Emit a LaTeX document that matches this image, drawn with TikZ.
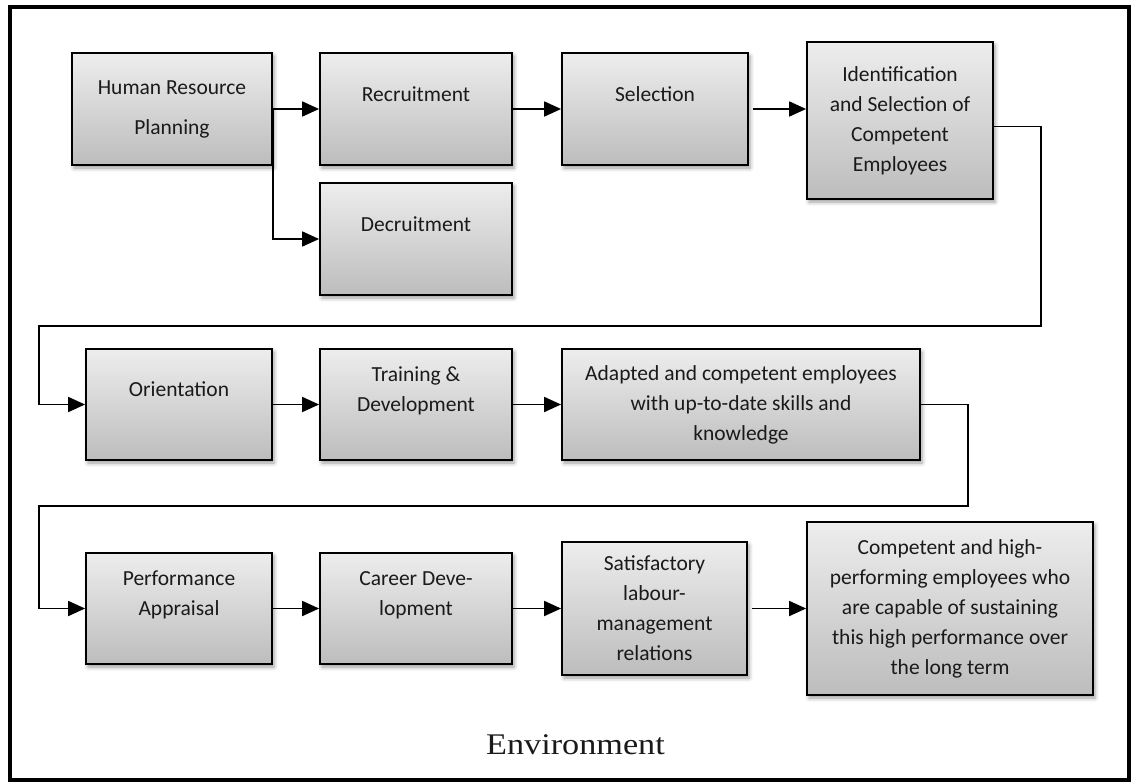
\documentclass[tikz,border=0pt]{standalone}
\usepackage{fontspec}
\setmainfont{Carlito}
\newfontfamily\envfont{Liberation Serif}
\usetikzlibrary{arrows.meta,shadows.blur}

\definecolor{inktext}{HTML}{1A1A1A}

\begin{document}
\begin{tikzpicture}[x=1pt,y=-1pt,
  stage/.style={draw=black, line width=1.8pt,
    top color=gray!14, bottom color=gray!52,
    blur shadow={shadow xshift=2pt, shadow yshift=-3pt,
      shadow blur radius=4pt, shadow opacity=40},
    align=center, text=inktext, inner sep=0pt,
    font=\fontsize{21.5}{30}\selectfont},
  link/.style={line width=1.8pt, -{Triangle[length=17pt,width=15pt]}}
]
\useasboundingbox (0,0) rectangle (1132,782);

% outer frame
\draw[line width=4pt] (10,7) rectangle (1129,780);

% first row
\node[stage, minimum width=200pt, minimum height=112pt,
      font=\fontsize{21.5}{40}\selectfont] (hrp) at (172,109) {Human Resource\\Planning};
\node[stage, minimum width=192pt, minimum height=112pt] (rec) at (416,109) {Recruitment\\\mbox{}};
\node[stage, minimum width=186pt, minimum height=112pt] (sel) at (655,109) {Selection\\\mbox{}};
\node[stage, minimum width=186pt, minimum height=157pt] (ident) at (900,120.5)
  {Identification\\and Selection of\\Competent\\Employees};
\node[stage, minimum width=192pt, minimum height=112pt] (decr) at (416,239) {Decruitment\\\mbox{}};

% second row
\node[stage, minimum width=186pt, minimum height=111pt] (orient) at (179,404.5) {Orientation\\\mbox{}};
\node[stage, minimum width=192pt, minimum height=111pt] (train) at (416,404.5) {Training \&\\Development\\\mbox{}};
\node[stage, minimum width=358pt, minimum height=111pt] (adapt) at (741,404.5)
  {Adapted and competent employees\\with up-to-date skills and\\knowledge};

% third row
\node[stage, minimum width=186pt, minimum height=111pt] (perf) at (179,608.5) {Performance\\Appraisal\\\mbox{}};
\node[stage, minimum width=192pt, minimum height=111pt] (career) at (416,608.5) {Career Deve-\\lopment\\\mbox{}};
\node[stage, minimum width=185pt, minimum height=133pt] (satis) at (654.5,608.5)
  {Satisfactory\\labour-\\management\\relations};
\node[stage, minimum width=286pt, minimum height=173pt] (comp) at (950,608.5)
  {Competent and high-\\performing employees who\\are capable of sustaining\\this high performance over\\the long term};

% caption
\node[font=\envfont\fontsize{30}{36}\selectfont, text=inktext, anchor=base, inner sep=0pt]
  (env) at (575.5,754) {\scalebox{1.14}[1]{Environment}};

% turning points of the wrap-around connectors
\coordinate (wrapA) at (1041,326);
\coordinate (wrapB) at (39,326);
\coordinate (wrapC) at (968,506);
\coordinate (wrapD) at (39,506);

% connectors
\draw[link] (hrp.east) -- (rec.west);
\draw[link] (hrp.east) |- (decr.west);
\draw[link] (rec.east) -- (sel.west);
\draw[link, shorten <=4pt] (sel.east) -- (sel.east -| ident.west);
\draw[link] ([yshift=-6pt]ident.east) -| (wrapA) -- (wrapB) |- (orient.west);
\draw[link] (orient.east) -- (train.west);
\draw[link] (train.east) -- (adapt.west);
\draw[link] (adapt.east) -| (wrapC) -- (wrapD) |- (perf.west);
\draw[link] (perf.east) -- (career.west);
\draw[link] (career.east) -- (satis.west);
\draw[link, shorten <=4pt] (satis.east) -- (comp.west);
\end{tikzpicture}
\end{document}
